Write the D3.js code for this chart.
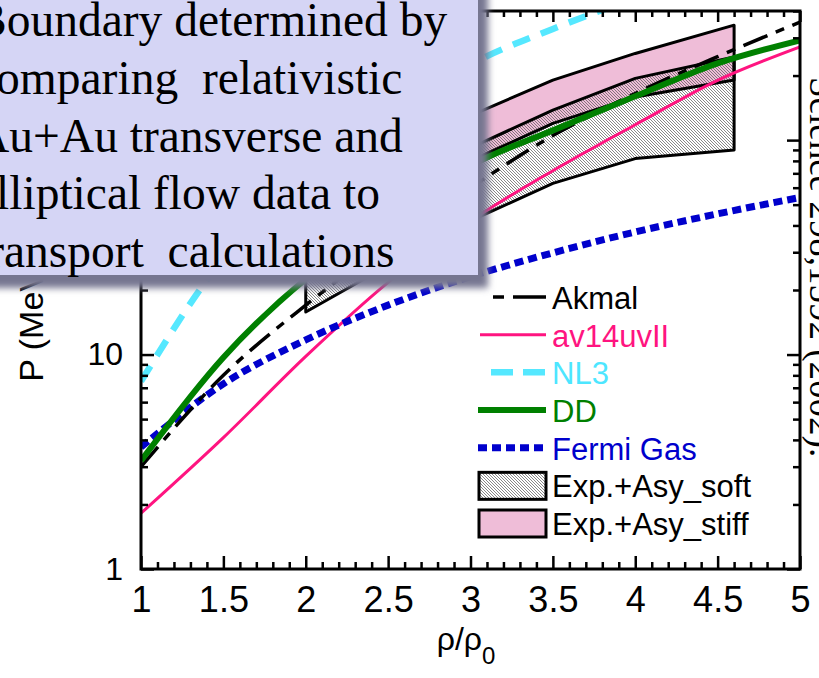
<!DOCTYPE html>
<html>
<head>
<meta charset="utf-8">
<script src="https://cdn.jsdelivr.net/npm/d3@7"></script>
<style>
  body { margin: 0; background: #fff; }
  svg { display: block; }
</style>
</head>
<body>
<script>
// density grid (rho/rho0) and pressures (MeV/fm^3)
const densities = [1, 1.5, 2, 2.5, 3, 3.5, 4, 4.5, 5];
const akmal = [3.0, 8.0, 17, 33, 60, 105, 165, 245, 355];
const av14uvII = [1.82, 4.1, 9.8, 21.7, 42, 72, 118, 190, 272];
const dd = [3.2, 9.7, 22.5, 42, 76, 111, 160, 228, 292];
const fermiGas = [3.7, 7.3, 11.7, 17.0, 23.1, 29.8, 37.3, 45.3, 54];
const nl3Densities = [1, 1.5, 2, 2.5, 3, 3.5, 4];
const nl3 = [7.5, 28, 64, 125, 225, 330, 460];

// experimental constraint bands
const bandDensities = [2, 2.5, 3, 3.5, 4, 4.6];
const softLow = [15.8, 26, 42, 62.8, 82, 90];
const softHigh = [40, 62, 92, 138, 194, 244];
const stiffLow = [30, 50, 80, 119.6, 159, 190.5];
const stiffHigh = [55, 85, 130, 190.5, 253.6, 343.7];

const xMajor = [1, 1.5, 2, 2.5, 3, 3.5, 4, 4.5, 5];
const yMajor = [1, 10, 100];
const yMinor = [2, 3, 4, 5, 6, 7, 8, 9, 20, 30, 40, 50, 60, 70, 80, 90, 200, 300, 400];

const boxLines = [
  "Boundary determined by",
  "comparing  relativistic",
  "Au+Au transverse and",
  "elliptical flow data to",
  "transport  calculations"
];

const W = 819, H = 678;
const plotL = 141, plotR = 800, plotT = 11, plotB = 569;

const svg = d3.select("body").append("svg")
  .attr("width", W)
  .attr("height", H);

const x = d3.scaleLinear().domain([1, 5]).range([plotL, plotR]);
const y = d3.scaleLog().domain([1, 400]).range([plotB, plotT]);

const defs = svg.append("defs");

// fine diagonal hatching for the soft band
const hatch = defs.append("pattern")
  .attr("id", "hatch")
  .attr("patternUnits", "userSpaceOnUse")
  .attr("width", 3)
  .attr("height", 3);
hatch.append("path")
  .attr("d", "M-1,-1L4,4M-1,2L1,4M2,-1L4,1")
  .attr("stroke", "#555")
  .attr("stroke-width", 0.7);

defs.append("clipPath").attr("id", "plotClip")
  .append("rect")
  .attr("x", plotL).attr("y", plotT)
  .attr("width", plotR - plotL).attr("height", plotB - plotT);

defs.append("filter").attr("id", "blur")
  .attr("x", "-10%").attr("y", "-10%").attr("width", "130%").attr("height", "130%")
  .append("feGaussianBlur").attr("stdDeviation", 3.5);

const plot = svg.append("g").attr("clip-path", "url(#plotClip)");

// band polygons: lower edge left->right then upper edge right->left
function bandPoints(low, high) {
  const pts = bandDensities.map((d, i) => [x(d), y(low[i])]);
  for (let i = bandDensities.length - 1; i >= 0; i--) pts.push([x(bandDensities[i]), y(high[i])]);
  return pts;
}
const poly = d3.line();

plot.append("path")
  .attr("d", poly(bandPoints(stiffLow, stiffHigh)) + "Z")
  .attr("fill", "#efbdd8");
plot.append("path")
  .attr("d", poly(bandPoints(softLow, softHigh)) + "Z")
  .attr("fill", "url(#hatch)");
[[stiffLow, stiffHigh], [softLow, softHigh]].forEach(b => {
  plot.append("path")
    .attr("d", poly(bandPoints(b[0], b[1])) + "Z")
    .attr("fill", "none")
    .attr("stroke", "black")
    .attr("stroke-width", 3)
    .attr("stroke-linejoin", "round");
});

// model curves
const curve = d3.line()
  .x(d => x(d[0]))
  .y(d => y(d[1]))
  .curve(d3.curveMonotoneX);

const series = [
  { xs: densities, ys: av14uvII, color: "#ff1480", width: 3, dash: null },
  { xs: densities, ys: fermiGas, color: "#0000cc", width: 7, dash: "9,5" },
  { xs: nl3Densities, ys: nl3, color: "#55e8ff", width: 6.5, dash: "18,12" },
  { xs: densities, ys: akmal, color: "black", width: 3.5, dash: "26,9,9,9" },
  { xs: densities, ys: dd, color: "#008000", width: 6, dash: null }
];
series.forEach(s => {
  plot.append("path")
    .datum(s.xs.map((d, i) => [d, s.ys[i]]))
    .attr("d", curve)
    .attr("fill", "none")
    .attr("stroke", s.color)
    .attr("stroke-width", s.width)
    .attr("stroke-dasharray", s.dash);
});

// axes with inward ticks
const xMinor = d3.range(11, 50).map(v => v / 10).filter(v => !xMajor.includes(v));
const tickFont = "Liberation Sans, Arial, sans-serif";

function styleAxis(g) {
  g.select(".domain").remove();
  g.selectAll("line").attr("stroke", "black").attr("stroke-width", 2.5);
}

svg.append("g").attr("transform", `translate(0,${plotB})`)
  .call(d3.axisBottom(x).tickValues(xMajor).tickSizeInner(-13).tickPadding(17)
    .tickFormat(d3.format("")))
  .call(styleAxis)
  .call(g => g.selectAll("text").attr("font-size", 36).attr("font-family", tickFont).attr("fill", "black"));
svg.append("g").attr("transform", `translate(0,${plotB})`)
  .call(d3.axisBottom(x).tickValues(xMinor).tickSizeInner(-7).tickFormat(""))
  .call(styleAxis);
svg.append("g").attr("transform", `translate(0,${plotT})`)
  .call(d3.axisTop(x).tickValues(xMajor).tickSizeInner(-11).tickFormat(""))
  .call(styleAxis);
svg.append("g").attr("transform", `translate(0,${plotT})`)
  .call(d3.axisTop(x).tickValues(xMinor).tickSizeInner(-6).tickFormat(""))
  .call(styleAxis);

svg.append("g").attr("transform", `translate(${plotL},0)`)
  .call(d3.axisLeft(y).tickValues(yMajor).tickSizeInner(-13).tickPadding(18)
    .tickFormat(d3.format("")))
  .call(styleAxis)
  .call(g => g.selectAll("text").attr("font-size", 32).attr("font-family", tickFont).attr("fill", "black"));
svg.append("g").attr("transform", `translate(${plotL},0)`)
  .call(d3.axisLeft(y).tickValues(yMinor).tickSizeInner(-7).tickFormat(""))
  .call(styleAxis);
svg.append("g").attr("transform", `translate(${plotR},0)`)
  .call(d3.axisRight(y).tickValues(yMajor).tickSizeInner(-13).tickFormat(""))
  .call(styleAxis);
svg.append("g").attr("transform", `translate(${plotR},0)`)
  .call(d3.axisRight(y).tickValues(yMinor).tickSizeInner(-7).tickFormat(""))
  .call(styleAxis);

svg.append("rect")
  .attr("x", plotL).attr("y", plotT)
  .attr("width", plotR - plotL).attr("height", plotB - plotT)
  .attr("fill", "none")
  .attr("stroke", "black")
  .attr("stroke-width", 3);

// axis titles
const xTitle = svg.append("text")
  .attr("x", 466).attr("y", 650)
  .attr("text-anchor", "middle")
  .attr("font-family", tickFont)
  .attr("font-size", 32);
xTitle.append("tspan").text("ρ/ρ");
xTitle.append("tspan").attr("font-size", 24).attr("dy", 14).text("0");

const yTitle = svg.append("text")
  .attr("transform", `translate(43,${(plotT + plotB) / 2}) rotate(-90)`)
  .attr("text-anchor", "middle")
  .attr("font-family", tickFont)
  .attr("font-size", 34);
yTitle.append("tspan").text("P (MeV/fm");
yTitle.append("tspan").attr("font-size", 22).attr("dy", -14).text("3");
yTitle.append("tspan").attr("dy", 14).text(")");

// legend
const legendItems = [
  { name: "Akmal", color: "black", text: "black", width: 3.5, dash: "11,9,30,0", x1: 493 },
  { name: "av14uvII", color: "#ff1480", text: "#ff1480", width: 3, dash: null, x1: 480 },
  { name: "NL3", color: "#55e8ff", text: "#4de6ff", width: 6.5, dash: "22,10", x1: 491 },
  { name: "DD", color: "#008000", text: "#008000", width: 6, dash: null, x1: 478 },
  { name: "Fermi Gas", color: "#0000cc", text: "#0000cc", width: 7, dash: "9,5", x1: 478 }
];
const legendY = d3.scaleLinear().domain([0, 6]).range([297, 523]);
const legend = svg.append("g").attr("font-family", tickFont).attr("font-size", 31);

legendItems.forEach((it, i) => {
  legend.append("line")
    .attr("x1", it.x1).attr("x2", 546)
    .attr("y1", legendY(i)).attr("y2", legendY(i))
    .attr("stroke", it.color)
    .attr("stroke-width", it.width)
    .attr("stroke-dasharray", it.dash);
  legend.append("text")
    .attr("x", 552).attr("y", legendY(i) + 12)
    .attr("fill", it.text)
    .text(it.name);
});
[{ name: "Exp.+Asy_soft", fill: "url(#hatch)" }, { name: "Exp.+Asy_stiff", fill: "#efbdd8" }].forEach((it, j) => {
  const cy = legendY(5 + j);
  legend.append("rect")
    .attr("x", 479).attr("y", cy - 13)
    .attr("width", 67).attr("height", 27)
    .attr("fill", it.fill)
    .attr("stroke", "black")
    .attr("stroke-width", 3);
  legend.append("text")
    .attr("x", 552).attr("y", cy + 12)
    .attr("fill", "black")
    .text(it.name);
});

// overlay note box
svg.append("rect")
  .attr("x", -20).attr("y", -20)
  .attr("width", 508).attr("height", 308)
  .attr("fill", "#767690")
  .attr("filter", "url(#blur)");
svg.append("rect")
  .attr("x", -20).attr("y", -20)
  .attr("width", 498).attr("height", 295)
  .attr("fill", "#d5d5f5");
svg.append("g")
  .attr("font-family", "Liberation Serif, Times New Roman, serif")
  .attr("font-size", 47.5)
  .selectAll("text")
  .data(boxLines)
  .join("text")
  .attr("x", -25)
  .attr("y", (d, i) => 36 + i * 57.8)
  .attr("fill", "black")
  .style("white-space", "pre")
  .text(d => d);

// citation along the right edge
svg.append("text")
  .attr("transform", "translate(810,77) rotate(90)")
  .attr("font-family", "Liberation Serif, Times New Roman, serif")
  .attr("font-size", 37)
  .attr("fill", "black")
  .text("Science 298,1592 (2002).");
</script>
</body>
</html>
